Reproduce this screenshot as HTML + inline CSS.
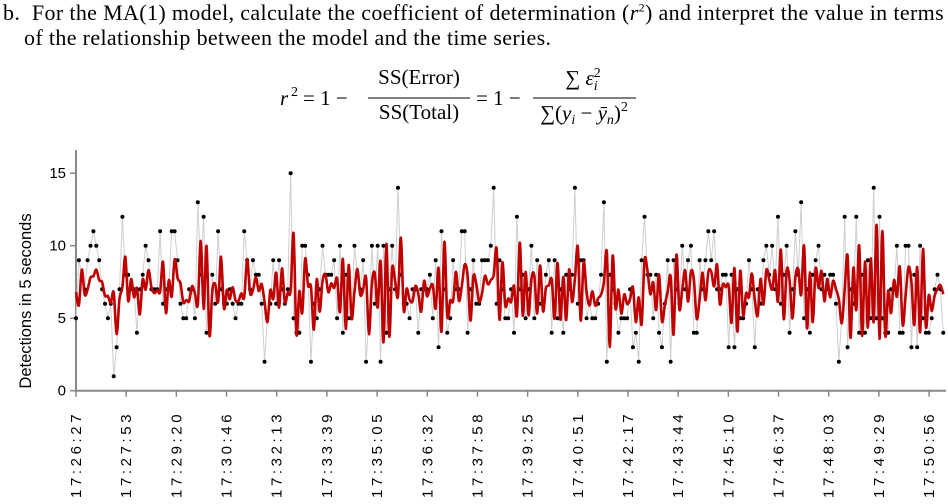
<!DOCTYPE html>
<html><head><meta charset="utf-8"><style>
html,body{margin:0;padding:0;background:#fff;width:948px;height:504px;overflow:hidden}
.q{position:absolute;font-family:"Liberation Serif",serif;font-size:22px;letter-spacing:0.35px;color:#000;white-space:nowrap}
</style></head><body>
<div class="q" style="left:3px;top:0px">b.&nbsp; For the MA(1) model, calculate the coefficient of determination (<i>r</i><sup style="font-size:12px">2</sup>) and interpret the value in terms</div>
<div class="q" style="left:24px;top:25px">of the relationship between the model and the time series.</div>
<svg width="948" height="504" style="position:absolute;left:0;top:0">
<g font-family="Liberation Serif, serif" font-size="21">
<text x="280" y="105" font-style="italic">r</text><text x="291" y="96" font-size="14">2</text>
<text x="303" y="105">= 1 −</text>
<text x="419" y="84" text-anchor="middle">SS(Error)</text>
<line x1="368" y1="98" x2="470" y2="98" stroke="#000" stroke-width="1"/>
<text x="419" y="119" text-anchor="middle">SS(Total)</text>
<text x="476" y="105">= 1 −</text>
<text x="583" y="85" text-anchor="middle">∑ <tspan font-style="italic">ε</tspan><tspan font-size="14" dy="-8">2</tspan><tspan font-size="14" dx="-7" dy="13" font-style="italic">i</tspan></text>
<line x1="533" y1="98" x2="636" y2="98" stroke="#000" stroke-width="1"/>
<text x="584" y="120" text-anchor="middle">∑(<tspan font-style="italic">y</tspan><tspan font-size="14" dy="4" font-style="italic">i</tspan><tspan dy="-4"> − </tspan><tspan font-style="italic">ȳ</tspan><tspan font-size="14" dy="4" font-style="italic">n</tspan><tspan dy="-4">)</tspan><tspan font-size="14" dy="-9">2</tspan></text>
</g>
<g id="axes"></g>
<g id="marks"></g>
</svg>
<script>
const obs=[5,9,8,7,9,10,11,10,9,7,6,5,6,1,3,7,12,8,8,7,7,4,7,8,10,9,7,7,7,11,6,7,7,11,11,9,6,5,5,7,7,5,13,8,12,4,4,8,6,11,
7,6,6,7,6,5,6,6,11,9,7,9,8,8,6,2,5,6,9,6,9,7,6,7,15,5,4,4,10,10,8,2,6,5,7,10,8,8,8,9,5,10,4,8,5,5,10,8,7,9,2,
5,10,6,10,2,10,4,7,10,7,14,8,6,6,5,7,7,4,7,7,7,8,5,9,3,11,7,4,5,9,7,7,11,11,4,7,9,6,6,9,9,9,10,14,6,9,7,5,5,7,4,12,7,
8,5,7,10,5,9,6,6,8,9,4,9,5,7,4,8,7,8,14,6,9,9,5,6,5,5,6,8,13,2,8,7,6,4,5,5,5,7,3,4,2,9,12,8,8,5,8,4,3,6,9,
2,9,7,6,10,7,9,10,4,4,9,7,9,11,9,11,7,7,8,8,3,8,3,7,5,5,6,9,7,3,7,6,9,10,8,10,7,12,6,8,10,4,7,11,8,13,5,7,4,8,9,10,
7,8,7,8,8,6,2,5,12,3,7,6,12,4,8,4,9,5,14,5,12,5,4,4,7,7,10,4,4,10,10,3,8,3,10,5,4,4,5,7,8,7,4];
const tickLabels=["17:26:27","17:27:53","17:29:20","17:30:46","17:32:13","17:33:39","17:35:05","17:36:32","17:37:58","17:39:25","17:40:51","17:42:17","17:43:44","17:45:10","17:46:37","17:48:03","17:49:29","17:50:56"];
const yTicks=[0,5,10,15];
const maMean=6.8, maTheta=0.5;
const NS='http://www.w3.org/2000/svg';
const X0=76,X1=943.3,Y0=390.7,YU=14.5;
const xs=i=>X0+i*(X1-X0)/(obs.length-1);
const ys=v=>Y0-v*YU;
function mk(t,a,p){const e=document.createElementNS(NS,t);for(const k in a)e.setAttribute(k,a[k]);p.appendChild(e);return e;}
const ax=document.getElementById('axes'),mg=document.getElementById('marks');
const fit=[];let prevE=0;
obs.forEach((y,i)=>{const f=maMean+maTheta*prevE;fit.push(f);prevE=y-f;});
const yl=mk('line',{x1:X0,y1:150,x2:X0,y2:Y0+1,stroke:'#888','stroke-width':2},ax);


const xl=mk('line',{x1:X0-1,y1:Y0,x2:946,y2:Y0,stroke:'#888','stroke-width':2},ax);


yTicks.forEach(v=>{
 mk('line',{x1:X0-6,y1:ys(v),x2:X0,y2:ys(v),stroke:'#888','stroke-width':1.5},ax);
 const t=mk('text',{x:X0-10,y:ys(v)+5,'text-anchor':'end','font-family':'Liberation Sans, sans-serif','font-size':15,fill:'#000'},ax);
 t.textContent=v;
 
 
});
const stepTick=(X1-X0)/(obs.length-1)*17.3;
tickLabels.forEach((s,i)=>{
 const x=X0+i*stepTick;
 mk('line',{x1:x,y1:Y0,x2:x,y2:Y0+6,stroke:'#888','stroke-width':1.5},ax);
 const t=mk('text',{x:0,y:0,transform:`translate(${x+5},498) rotate(-90)`,'font-family':'Liberation Sans, sans-serif','font-size':15,'letter-spacing':3.6,fill:'#000'},ax);
 t.textContent=s;
 
 
});
const yt=mk('text',{x:0,y:0,transform:'translate(31,301) rotate(-90)','text-anchor':'middle','font-family':'Liberation Sans, sans-serif','font-size':16.5,fill:'#000'},ax);
yt.textContent='Detections in 5 seconds';


const op=mk('polyline',{points:obs.map((v,i)=>xs(i)+','+ys(v)).join(' '),fill:'none',stroke:'#cfcfcf','stroke-width':1},mg);


obs.forEach((v,i)=>{
 const c=mk('circle',{cx:xs(i),cy:ys(v),r:2,fill:'#000'},mg);
 
 
});
const P=fit.map((v,i)=>[xs(i),ys(v)]);
let d='M'+P[0][0]+','+P[0][1];
for(let i=0;i<P.length-1;i++){
 const p0=P[Math.max(0,i-1)],p1=P[i],p2=P[i+1],p3=P[Math.min(P.length-1,i+2)];
 const c1x=p1[0]+(p2[0]-p0[0])/6,c1y=p1[1]+(p2[1]-p0[1])/6;
 const c2x=p2[0]-(p3[0]-p1[0])/6,c2y=p2[1]-(p3[1]-p1[1])/6;
 d+=` C${c1x},${c1y} ${c2x},${c2y} ${p2[0]},${p2[1]}`;
}
const fp=mk('path',{d:d,fill:'none',stroke:'#c00000','stroke-width':2.6,'stroke-linejoin':'round'},mg);


</script>
</body></html>
